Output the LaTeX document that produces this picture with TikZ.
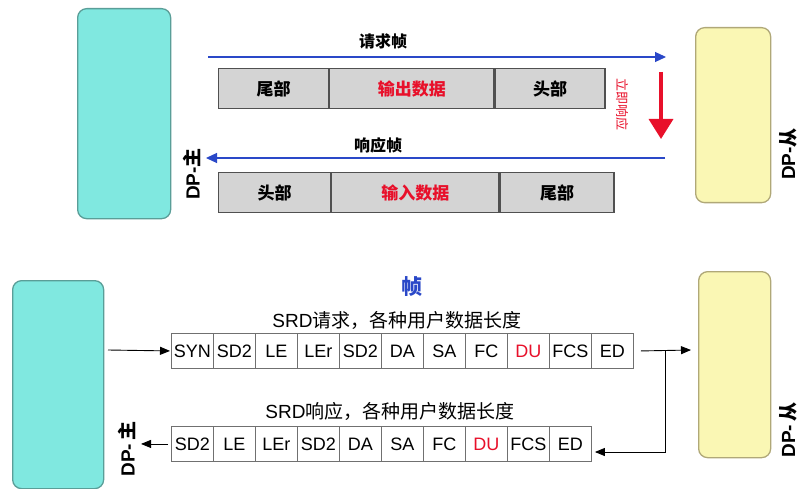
\documentclass[tikz,border=0pt]{standalone}
\usepackage{fontspec}
\setmainfont{Liberation Sans}
\newfontfamily\cjk{Noto Sans CJK SC}
\usetikzlibrary{arrows.meta}
\definecolor{cyanF}{HTML}{80E8E0}
\definecolor{cyanB}{HTML}{5A9E98}
\definecolor{yelF}{HTML}{FAF7B4}
\definecolor{yelB}{HTML}{B0A878}
\definecolor{blkF}{HTML}{D4D4D4}
\definecolor{blkB}{HTML}{505050}
\definecolor{arrBlue}{HTML}{2A48C8}
\definecolor{redT}{HTML}{E8102A}
\definecolor{cellB}{HTML}{707070}
\begin{document}
\begin{tikzpicture}[x=1pt,y=-1pt,
  master/.style={draw=cyanB,fill=cyanF,rounded corners=9pt,line width=1.3pt,anchor=north west,inner sep=0},
  slave/.style={draw=yelB,fill=yelF,rounded corners=9pt,line width=1.3pt,anchor=north west,inner sep=0},
  blk/.style={draw=blkB,fill=blkF,line width=1.2pt,anchor=north west,inner sep=0,minimum height=40,font=\cjk\bfseries\fontsize{17}{17}\selectfont},
  cell/.style={draw=cellB,fill=white,line width=0.9pt,anchor=north west,inner sep=0,minimum width=42,minimum height=35,font=\fontsize{18}{18}\selectfont},
  dplabel/.style={rotate=90,font=\bfseries\fontsize{19}{19}\selectfont,inner sep=1pt},
  toplabel/.style={font=\cjk\bfseries\fontsize{16}{16}\selectfont},
  srdlabel/.style={font=\fontsize{19}{19}\selectfont},
  bluearr/.style={draw=arrBlue,line width=1.1pt,-{Triangle[length=11,width=10]}},
  blackarr/.style={draw=black,line width=0.9pt,-{Triangle[length=10,width=8]}}
]
\useasboundingbox (0,0) rectangle (800,489);
\fill[white] (0,0) rectangle (800,489);

% ---------- top section ----------
\node[master,minimum width=93,minimum height=210] (m1) at (77,8) {};
\node[slave,minimum width=75,minimum height=175] (s1) at (695,27) {};
\node[dplabel] (dpm1) at (192,174) {DP-{\cjk 主}};
\node[dplabel] (dps1) at (788,154) {DP-{\cjk 从}};

\node[toplabel] (req) at (383,41) {请求帧};
\node[toplabel] (resp) at (378,145) {响应帧};

\coordinate (ra) at (208,57);
\coordinate (rb) at (666,57);
\draw[bluearr] (ra) -- (rb);
\coordinate (pa) at (665,158);
\coordinate (pb) at (206,158);
\draw[bluearr] (pa) -- (pb);

\node[blk,minimum width=110] (t1) at (218,68) {尾部};
\node[blk,minimum width=164,text=redT] (t2) at (t1.north east) {输出数据};
\node[blk,minimum width=110] (t3) at (t2.north east) {头部};

\node[blk,minimum width=112] (u1) at (218,172) {头部};
\node[blk,minimum width=167,text=redT] (u2) at (u1.north east) {输入数据};
\node[blk,minimum width=114] (u3) at (u2.north east) {尾部};

\node[rotate=-90,text=redT,font=\cjk\fontsize{13}{13}\selectfont] (imm) at (622,105) {立即响应};
\coordinate (da) at (661,72);
\coordinate (db) at (661,139);
\draw[draw=redT,line width=3.5pt,-{Triangle[length=20,width=24]}] (da) -- (db);

% ---------- bottom section ----------
\node[master,minimum width=91,minimum height=208] (m2) at (12,280) {};
\node[slave,minimum width=72,minimum height=186] (s2) at (698,271) {};
\node[dplabel] (dpm2) at (127,449) {DP-\,{\cjk 主}};
\node[dplabel] (dps2) at (788,430) {DP-\,{\cjk 从}};

\node[font=\cjk\bfseries\fontsize{21}{21}\selectfont,text=arrBlue] (zh) at (412,287) {帧};
\node[srdlabel] (srq) at (397,320) {SRD{\cjk 请求，各种用户数据长度}};
\node[srdlabel] (srp) at (390,411) {SRD{\cjk 响应，各种用户数据长度}};

\foreach [count=\i] \t in {SYN,SD2,LE,LEr,SD2,DA,SA,FC,{\textcolor{redT}{DU}},FCS,ED}
  \node[cell] (a\i) at ({171+42*(\i-1)},333) {\t};
\foreach [count=\i] \t in {SD2,LE,LEr,SD2,DA,SA,FC,{\textcolor{redT}{DU}},FCS,ED}
  \node[cell] (b\i) at ({171+42*(\i-1)},426) {\t};

\coordinate (ls) at (108,350);
\draw[blackarr] (ls) -- ([xshift=-1]a1.west);
\coordinate (jn) at (665,350);
\coordinate (jk) at (665,452);
\draw[blackarr] ([xshift=7]a11.east) -- ([xshift=-7]s2.west |- jn);
\draw[blackarr] (jn) -- (jk) -- ([xshift=3]b10.east |- jk);
\draw[blackarr] ([xshift=-3]b1.west) -- ++(-27,0);
\end{tikzpicture}
\end{document}
